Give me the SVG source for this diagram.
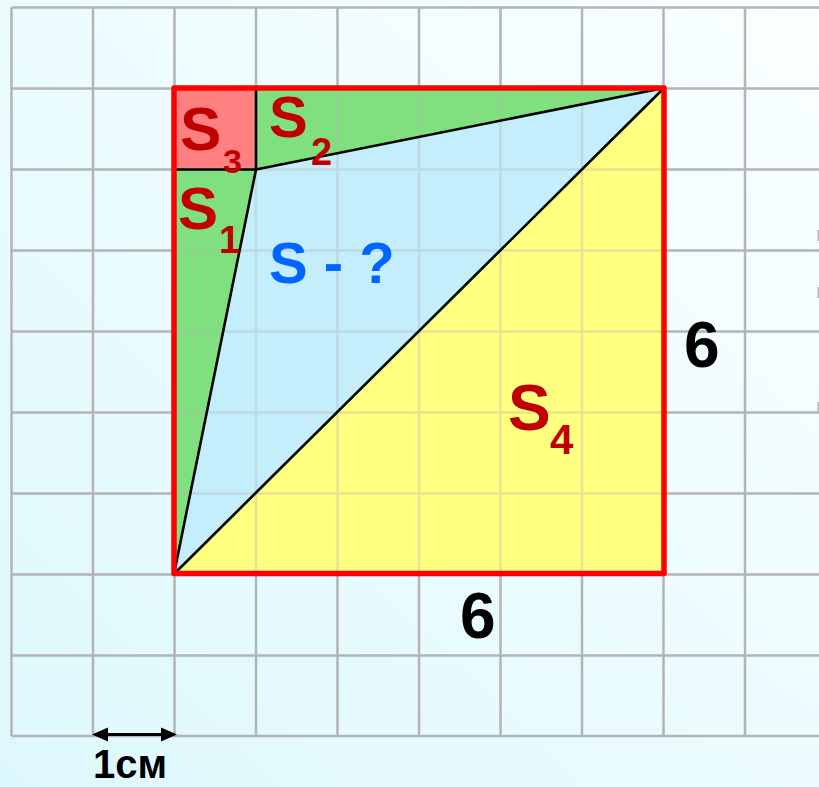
<svg xmlns="http://www.w3.org/2000/svg" xmlns:xlink="http://www.w3.org/1999/xlink" width="819" height="787" viewBox="0 0 819 787">
<defs>
<linearGradient id="bg" x1="0" y1="1" x2="1" y2="0">
<stop offset="0" stop-color="#DDF8FD"/>
<stop offset="1" stop-color="#FAFFFF"/>
</linearGradient>
<clipPath id="sq"><rect x="174" y="88" width="490" height="486"/></clipPath>
<g id="grid">
<path d="M11.5 7.5V736M93 7.5V736M174.5 7.5V736M256 7.5V736M337.5 7.5V736M419 7.5V736M500.5 7.5V736M582 7.5V736M663.5 7.5V736M745 7.5V736"/>
<path d="M11.5 7.5H819M11.5 88.5H819M11.5 169.5H819M11.5 250.5H819M11.5 331.5H819M11.5 412.5H819M11.5 493.5H819M11.5 574.5H819M11.5 655.5H819M11.5 736H819"/>
</g>
</defs>
<style>
.g{stroke:#B4B4B4;stroke-width:2.5;fill:none}
.lab{font-family:"Liberation Sans",Arial,sans-serif;font-weight:bold;fill:#C00000}
.num{font-family:"Liberation Sans",Arial,sans-serif;font-weight:bold;fill:#000}
.edge{stroke:#000;stroke-width:2.6;fill:none;stroke-linecap:round}
</style>
<rect width="819" height="787" fill="url(#bg)"/>
<use xlink:href="#grid" class="g"/>
<path d="M818.5 230V241M818.5 287V298M818.5 402V413" stroke="#B4B4B4" stroke-width="2"/>
<g id="regions">
<g id="S3-region"><rect x="174" y="88" width="82" height="81.5" fill="#FF8080"/></g>
<g id="S2-region"><polygon points="256,88 664,88 256,169.5" fill="#80E080"/></g>
<g id="S1-region"><polygon points="174,169.5 256,169.5 174,574" fill="#80E080"/></g>
<g id="S-region"><polygon points="256,169.5 664,88 174,574" fill="#C4EEFC"/></g>
<g id="S4-region"><polygon points="174,574 664,88 664,574" fill="#FFFF80"/></g>
</g>
<g clip-path="url(#sq)" opacity="0.35"><use xlink:href="#grid" class="g"/></g>
<g id="connectors">
<path class="edge" d="M256 169.5L664 88M256 169.5L174 574M174 574L664 88M256 88V169.5M174 169.5H256"/>
<rect x="174" y="88" width="490" height="485.5" fill="none" stroke="#FF0000" stroke-width="5.5" stroke-linejoin="round"/>
<g id="scale-arrow">
<line x1="104" y1="734.5" x2="165" y2="734.5" stroke="#000" stroke-width="3"/>
<polygon points="92,734.5 108,727.5 108,741.5"/>
<polygon points="177,734.5 161,727.5 161,741.5"/>
</g>
</g>
<g id="label-S3"><text class="lab" x="180" y="150" font-size="62">S</text><text class="lab" x="223" y="173" font-size="34">3</text></g>
<g id="label-S2"><text class="lab" x="269" y="137" font-size="58">S</text><text class="lab" x="311" y="165" font-size="38">2</text></g>
<g id="label-S1"><text class="lab" x="178" y="229" font-size="60">S</text><text class="lab" x="219" y="253" font-size="38">1</text></g>
<g id="label-S4"><text class="lab" x="508" y="430" font-size="64">S</text><text class="lab" x="550" y="454" font-size="42">4</text></g>
<g id="label-S"><text x="269" y="283" font-size="58" font-family="Liberation Sans, Arial, sans-serif" font-weight="bold" fill="#0066FF">S - ?</text></g>
<g id="label-6-right"><text class="num" x="684" y="367" font-size="64">6</text></g>
<g id="label-6-bottom"><text class="num" x="460" y="638" font-size="64">6</text></g>
<g id="label-1cm"><text class="num" x="93" y="778" font-size="40">1см</text></g>
</svg>
